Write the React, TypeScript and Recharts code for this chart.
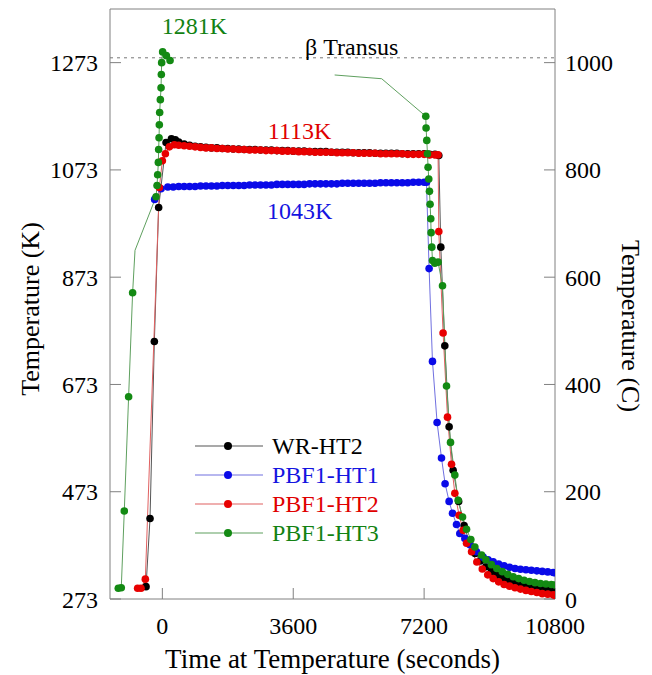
import {
  ComposedChart,
  Line,
  XAxis,
  YAxis,
  ReferenceLine,
  ReferenceDot,
  Legend,
} from "recharts";

const font = "'Liberation Serif', 'Times New Roman', serif";

// time (s) vs temperature (K)
const wrRamp = [[-449, 296], [-339, 423], [-220, 753], [-102, 1003], [102, 1124], [250, 1131], [358, 1129]];
const holdT = [
  450, 600, 750, 900, 1050, 1200, 1350, 1500, 1650, 1800, 1950, 2100, 2250, 2400, 2550, 2700,
  2850, 3000, 3150, 3300, 3450, 3600, 3750, 3900, 4050, 4200, 4350, 4500, 4650, 4800, 4950, 5100,
  5250, 5400, 5550, 5700, 5850, 6000, 6150, 6300, 6450, 6600, 6750, 6900, 7050, 7200, 7350, 7500,
];
const wrHold = [
  1125, 1121, 1119, 1117, 1116, 1115, 1114, 1114, 1113, 1113, 1112, 1112, 1111, 1111, 1111, 1110,
  1110, 1110, 1109, 1109, 1109, 1108, 1108, 1108, 1107, 1107, 1107, 1107, 1106, 1106, 1106, 1106,
  1105, 1105, 1105, 1105, 1104, 1104, 1104, 1104, 1104, 1103, 1103, 1103, 1103, 1103, 1102, 1102,
];
const wrCool = [
  [7604, 1100], [7659, 929], [7769, 745], [7888, 594], [7998, 513], [8150, 455], [8300, 410],
  [8450, 378], [8600, 358], [8750, 344], [8900, 333], [9050, 324], [9200, 317], [9350, 312],
  [9500, 308], [9650, 304.5], [9800, 302], [9950, 300], [10100, 298], [10250, 296.5],
  [10400, 295], [10550, 294], [10700, 293], [10800, 292],
];

const ht1Ramp = [[-212, 1018], [-36, 1038]];
const ht1HoldT = [
  150, 300, 450, 600, 750, 900, 1050, 1200, 1350, 1500, 1650, 1800, 1950, 2100, 2250, 2400,
  2550, 2700, 2850, 3000, 3150, 3300, 3450, 3600, 3750, 3900, 4050, 4200, 4350, 4500, 4650, 4800,
  4950, 5100, 5250, 5400, 5550, 5700, 5850, 6000, 6150, 6300, 6450, 6600, 6750, 6900, 7050, 7200,
];
const ht1Hold = [
  1041, 1041, 1042, 1042, 1042, 1042, 1043, 1043, 1043, 1043, 1044, 1044, 1044, 1044, 1044, 1045,
  1045, 1045, 1045, 1045, 1046, 1046, 1046, 1046, 1046, 1046, 1047, 1047, 1047, 1047, 1047, 1047,
  1048, 1048, 1048, 1048, 1048, 1048, 1048, 1049, 1049, 1049, 1049, 1049, 1049, 1050, 1050, 1050,
];
const ht1Cool = [
  [7265, 1050], [7337, 889], [7430, 716], [7557, 602], [7678, 536], [7777, 488], [7888, 455],
  [7981, 433], [8091, 412], [8182, 395], [8320, 386], [8458, 374], [8642, 361], [8824, 351],
  [8960, 346], [9100, 342.5], [9250, 338], [9400, 335], [9550, 332], [9700, 330], [9850, 328.5],
  [10000, 327.5], [10150, 326.5], [10300, 325.5], [10450, 324.5], [10600, 323.5], [10750, 322.5],
  [10800, 322],
];

const ht2Ramp = [[-680, 293], [-587, 293], [-468, 310], [-83, 1040], [0, 1090], [83, 1103], [193, 1116], [331, 1120]];
const ht2Hold = [
  1119, 1118, 1117, 1116, 1115, 1114, 1114, 1113, 1113, 1112, 1112, 1111, 1111, 1110, 1110, 1110,
  1109, 1109, 1109, 1108, 1108, 1108, 1107, 1107, 1107, 1106, 1106, 1106, 1106, 1105, 1105, 1105,
  1105, 1104, 1104, 1104, 1104, 1103, 1103, 1103, 1103, 1103, 1102, 1102, 1102, 1102, 1101, 1101,
];
const ht2Cool = [
  [7584, 1101], [7604, 958], [7722, 769], [7843, 612], [7954, 524], [8045, 470], [8163, 429],
  [8273, 401], [8367, 377], [8505, 361], [8650, 342], [8800, 329], [8950, 318], [9100, 311],
  [9250, 305], [9400, 300], [9550, 297], [9700, 294], [9850, 291.5], [10000, 289], [10150, 287],
  [10300, 285], [10450, 283], [10600, 282], [10750, 281], [10800, 280],
];

const ht3Heat = [[-1212, 293], [-1130, 294], [-1047, 437], [-928, 650], [-818, 844]];
const ht3Link = [[-818, 844], [-752, 923], [-174, 1023]];
const ht3Peak = [
  [-174, 1023], [-146, 1044], [-129, 1064], [-110, 1087], [-102, 1111], [-91, 1133], [-83, 1157],
  [-74, 1180], [-55, 1204], [-36, 1226], [-28, 1251], [-19, 1273], [8, 1293], [110, 1286], [212, 1277],
];
const ht3Bridge = [[4739, 1250], [6033, 1243], [7246, 1173]];
const ht3Cool = [
  [7246, 1173], [7254, 1151], [7273, 1128], [7292, 1103], [7309, 1078], [7328, 1056], [7347, 1033],
  [7364, 1009], [7383, 982], [7392, 956], [7411, 929], [7430, 904], [7494, 899], [7584, 901],
  [7706, 857], [7816, 670], [7926, 565], [8045, 504], [8136, 457], [8257, 426], [8367, 403],
  [8485, 384], [8596, 370], [8780, 355], [8900, 346], [9050, 337], [9200, 330], [9350, 324],
  [9500, 319], [9650, 314.5], [9800, 311], [9950, 308], [10100, 305.5], [10250, 303.5],
  [10400, 302], [10550, 301], [10700, 300], [10800, 299],
];

const kTicks = [273, 473, 673, 873, 1073, 1273];
const cTicks = [0, 200, 400, 600, 800, 1000];
const tTicks = [0, 3600, 7200, 10800];
const betaTransus = 1282;

const pts = (a: number[][]) => a.map(([t, K]) => ({ t, K }));
const zip = (ts: number[], ks: number[]) => ts.map((t, i) => ({ t, K: ks[i] }));

const series = [
  { name: "WR-HT2", dot: "#000000", line: "#555555", text: "#000000" },
  { name: "PBF1-HT1", dot: "#0a0ae8", line: "#7070e0", text: "#1414e0" },
  { name: "PBF1-HT2", dot: "#e80000", line: "#e06060", text: "#e00000" },
  { name: "PBF1-HT3", dot: "#138a13", line: "#5fa05f", text: "#128212" },
];

const wrData = [...pts(wrRamp), ...zip(holdT, wrHold), ...pts(wrCool)];
const ht1Data = [...pts(ht1Ramp), ...zip(ht1HoldT, ht1Hold), ...pts(ht1Cool)];
const ht2Data = [...pts(ht2Ramp), ...zip(holdT, ht2Hold), ...pts(ht2Cool)];

const axisGray = "#808080";
const tickStyle = { fill: "#000", fontSize: 24, fontFamily: font };

const renderLegend = () => (
  <svg width={220} height={120}>
    {series.map((s, i) => {
      const y = 16 + i * 29;
      return (
        <g key={s.name}>
          <line x1={5} x2={73} y1={y} y2={y} stroke={s.line} strokeWidth={1.2} />
          <circle cx={38} cy={y} r={4} fill={s.dot} />
          <text x={82} y={y} dy="0.35em" fontSize={24} fill={s.text}>
            {s.name}
          </text>
        </g>
      );
    })}
  </svg>
);

// rotated axis title, placed from the axis box
const sideTitle = (value: string, side: "left" | "right") => (props: any) => {
  const vb = props.viewBox;
  const x = side === "left" ? vb.x + 25 : vb.x + vb.width - 17;
  const y = side === "left" ? vb.y + vb.height / 2 + 5 : vb.y + vb.height / 2 + 22;
  const angle = side === "left" ? -90 : 90;
  return (
    <text
      x={x}
      y={y}
      transform={`rotate(${angle} ${x} ${y})`}
      textAnchor="middle"
      dominantBaseline="central"
      fontSize={26}
      fill="#000"
    >
      {value}
    </text>
  );
};

const mkLine = (key: string, data: any[], s: typeof series[0], showDot = true) => (
  <Line
    key={key}
    data={data}
    dataKey="K"
    xAxisId="t"
    yAxisId="K"
    type="linear"
    stroke={s.line}
    strokeWidth={1}
    dot={showDot ? { r: 3.8, fill: s.dot, stroke: "none" } : false}
    activeDot={false}
    isAnimationActive={false}
  />
);

export default function App() {
  return (
    <div style={{ position: "absolute", left: 0, top: 0, width: 652, height: 675, background: "#fff" }}>
      <style>{`svg text, svg tspan { font-family: ${font}; }`}</style>
      <ComposedChart
        width={652}
        height={675}
        margin={{ top: 9, right: 5, bottom: 5, left: 5 }}
      >
        <XAxis
          xAxisId="t"
          dataKey="t"
          type="number"
          domain={[-1440, 10800]}
          ticks={tTicks}
          allowDataOverflow
          height={71}
          stroke={axisGray}
          tickSize={-11}
          tickMargin={29}
          tick={tickStyle}
          label={{
            value: "Time at Temperature (seconds)",
            position: "insideBottom",
            offset: 2,
            fill: "#000",
            fontSize: 27,
          }}
        />
        <YAxis
          yAxisId="K"
          type="number"
          domain={[273, 1373]}
          ticks={kTicks}
          allowDataOverflow
          width={105}
          stroke={axisGray}
          tickSize={-11}
          tickMargin={23}
          tick={tickStyle}
          label={{ content: sideTitle("Temperature (K)", "left") }}
        />
        <YAxis
          yAxisId="C"
          orientation="right"
          type="number"
          domain={[0, 1100]}
          ticks={cTicks}
          allowDataOverflow
          width={92}
          stroke={axisGray}
          tickSize={-11}
          tickMargin={21}
          tick={tickStyle}
          label={{ content: sideTitle("Temperature (C)", "right") }}
        />
        <ReferenceLine xAxisId="t" yAxisId="K" y={1373} stroke={axisGray} />
        <ReferenceLine xAxisId="t" yAxisId="K" y={betaTransus} stroke="#777" strokeDasharray="3 4" />

        {mkLine("wr", wrData, series[0])}
        {mkLine("ht1", ht1Data, series[1])}
        {mkLine("ht2", ht2Data, series[2])}
        {mkLine("ht3a", pts(ht3Heat), series[3])}
        {mkLine("ht3b", pts(ht3Link), series[3], false)}
        {mkLine("ht3c", pts(ht3Peak), series[3])}
        {mkLine("ht3d", pts(ht3Bridge), series[3], false)}
        {mkLine("ht3e", pts(ht3Cool), series[3])}

        <ReferenceDot xAxisId="t" yAxisId="K" x={880} y={1342} r={1} fill="none" stroke="none"
          label={{ value: "1281K", position: "center", fill: series[3].text, fontSize: 24 }} />
        <ReferenceDot xAxisId="t" yAxisId="K" x={5207} y={1304} r={1} fill="none" stroke="none"
          label={{ value: "β Transus", position: "center", fill: "#000", fontSize: 24 }} />
        <ReferenceDot xAxisId="t" yAxisId="K" x={3774} y={1146} r={1} fill="none" stroke="none"
          label={{ value: "1113K", position: "center", fill: series[2].text, fontSize: 24 }} />
        <ReferenceDot xAxisId="t" yAxisId="K" x={3774} y={997} r={1} fill="none" stroke="none"
          label={{ value: "1043K", position: "center", fill: series[1].text, fontSize: 24 }} />

        <Legend
          layout="vertical"
          align="center"
          verticalAlign="middle"
          content={renderLegend}
          wrapperStyle={{ position: "absolute", left: 190, top: 430, width: 220, height: 120 }}
        />
      </ComposedChart>
    </div>
  );
}
